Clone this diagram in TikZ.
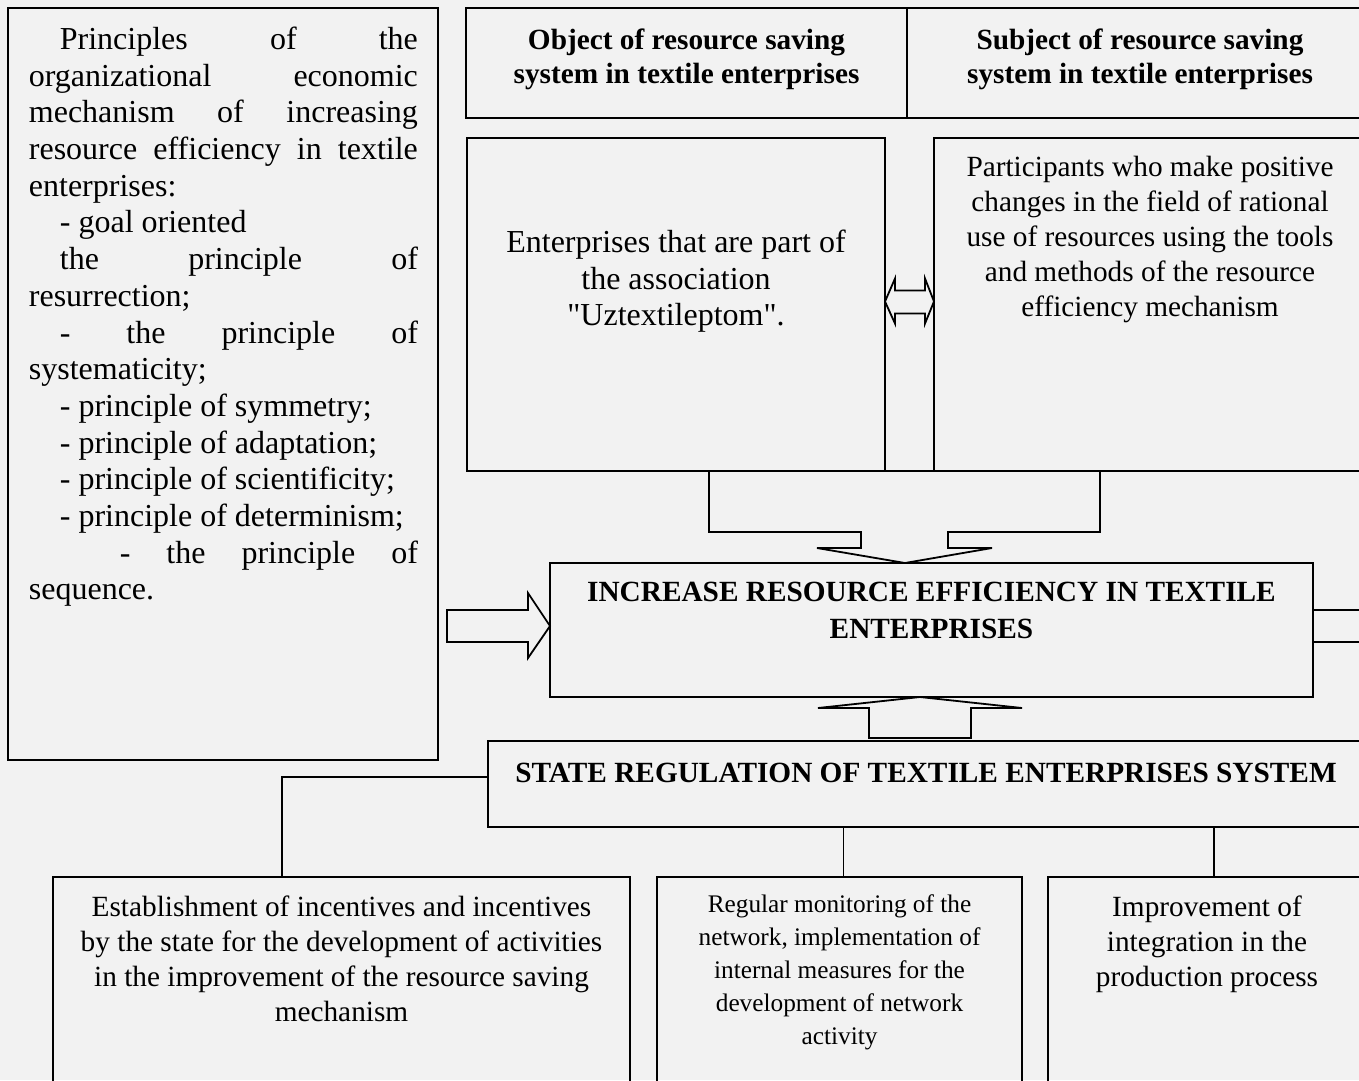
\documentclass[tikz,border=0pt]{standalone}
\usepackage{fontspec}
\setmainfont{Liberation Serif}
\newfontfamily\rawserif{Liberation Serif}
\usetikzlibrary{positioning,calc}
\definecolor{paper}{RGB}{242,242,242}
\newcommand{\sq}{{\rawserif\char34}}

\begin{document}
\begin{tikzpicture}[x=1pt,y=-1pt,line width=1.8pt,
box/.style={draw,rectangle,inner sep=0pt,outer sep=0pt,anchor=north west},
txt/.style={inner sep=0pt,anchor=north,align=center},
big/.style={font=\fontsize{32}{36.7}\selectfont},
mid/.style={font=\fontsize{29.3}{35}\selectfont},
head/.style={font=\fontsize{29.3}{34}\selectfont\bfseries},
small/.style={font=\fontsize{25.3}{33}\selectfont},
blockarrow/.style={draw,line join=miter,fill=paper}]

\clip (0,0) rectangle (1359,1080);
\fill[paper] (0,0) rectangle (1359,1080);

% boxes
\node[box,minimum width=430pt,minimum height=752pt] (princ) at (8,8) {};
\node[box,minimum width=441pt,minimum height=110pt] (obj) at (466,8) {};
\node[box,minimum width=466pt,minimum height=110pt] (subj) at (907,8) {};
\node[box,minimum width=418pt,minimum height=333pt] (ent) at (467,138) {};
\node[box,minimum width=432pt,minimum height=333pt] (part) at (934,138) {};
\node[box,minimum width=763pt,minimum height=134pt] (goal) at (550,563) {};
\node[box,minimum width=876pt,minimum height=86pt] (state) at (488,741) {};
\node[box,minimum width=577pt,minimum height=230pt] (estab) at (53,877) {};
\node[box,minimum width=365pt,minimum height=230pt] (monit) at (657,877) {};
\node[box,minimum width=318pt,minimum height=230pt] (integ) at (1048,877) {};

% texts
\node[big,inner sep=0pt,anchor=north west,text width=389pt,align=justify] (princtext) at (28,26)
{\hspace*{31pt}Principles of the\linebreak organizational economic\linebreak mechanism of increasing\linebreak resource efficiency in textile\linebreak enterprises:\par
\hspace*{31pt}- goal oriented\par
\hspace*{31pt}the principle of\linebreak resurrection;\par
\hspace*{31pt}- the principle of\linebreak systematicity;\par
\hspace*{31pt}- principle of symmetry;\par
\hspace*{31pt}- principle of adaptation;\par
\hspace*{31pt}- principle of scientificity;\par
\hspace*{31pt}- principle of determinism;\par
\hspace*{91pt}- the principle of\linebreak sequence.\par};
\node[txt,head] (objtext) at ([yshift=-19.5pt]obj.north) {Object of resource saving\\system in textile enterprises};
\node[txt,head] (subjtext) at ([yshift=-19.5pt]subj.north) {Subject of resource saving\\system in textile enterprises};
\node[txt,big] (enttext) at ([yshift=-91pt]ent.north) {Enterprises that are part of\\the association\\\sq Uztextileptom\sq.};
\node[txt,mid] (parttext) at ([yshift=-17.5pt]part.north) {Participants who make positive\\changes in the field of rational\\use of resources using the tools\\and methods of the resource\\efficiency mechanism};
\node[txt,head,font=\fontsize{29.3}{37}\selectfont\bfseries] (goaltext) at ([yshift=-18pt]goal.north) {INCREASE RESOURCE EFFICIENCY IN TEXTILE\\ENTERPRISES};
\node[txt,head] (statetext) at ([yshift=-21pt]state.north) {STATE REGULATION OF TEXTILE ENTERPRISES SYSTEM};
\node[txt,mid] (estabtext) at ([yshift=-17.5pt]estab.north) {Establishment of incentives and incentives\\by the state for the development of activities\\in the improvement of the resource saving\\mechanism};
\node[txt,small] (monittext) at ([yshift=-17pt]monit.north) {Regular monitoring of the\\network, implementation of\\internal measures for the\\development of network\\activity};
\node[txt,mid] (integtext) at ([yshift=-17.5pt]integ.north) {Improvement of\\integration in the\\production process};

% block arrows
\draw[blockarrow] ([xshift=242pt]ent.south west) -- ++(391,0) -- ++(0,61) -- ++(-152,0) -- ++(0,16)
  -- ++(44,0) -- ++(-87,15) -- ++(-88,-15) -- ++(44,0) -- ++(0,-16) -- ++(-152,0) -- cycle;
\draw[blockarrow] ([yshift=3pt]ent.east) -- ++(10,-23) -- ++(0,12) -- ++(30,0) -- ++(0,-12) -- ++(9,23)
  -- ++(-9,22) -- ++(0,-10) -- ++(-30,0) -- ++(0,10) -- cycle;
\draw[blockarrow] ([yshift=4pt]goal.west) -- ++(-22,-33) -- ++(0,17) -- ++(-81,0) -- ++(0,32) -- ++(81,0) -- ++(0,16) -- cycle;
\draw[blockarrow] ([yshift=20pt]goal.east) -- ++(50,0) -- ++(0,-16) -- ++(32,32) -- ++(-32,32) -- ++(0,-16) -- ++(-50,0) -- cycle;
\draw[blockarrow] ([xshift=-11.5pt]goal.south) -- ++(-102,11) -- ++(51,0) -- ++(0,30) -- ++(102,0) -- ++(0,-30) -- ++(51,0) -- cycle;

% connectors
\draw ([yshift=7pt]state.west) -| ($(estab.north west)!0.397!(estab.north east)$);
\draw ([xshift=4pt]monit.north) -- ([xshift=4pt]monit.north |- state.south);
\draw ([xshift=7pt]integ.north) -- ([xshift=7pt]integ.north |- state.south);
\end{tikzpicture}
\end{document}
